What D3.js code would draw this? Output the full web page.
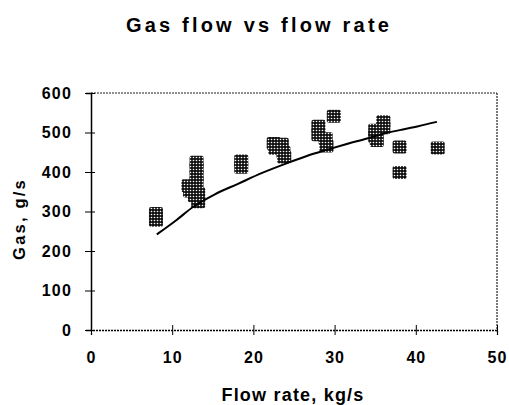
<!DOCTYPE html>
<html><head><meta charset="utf-8">
<script src="https://cdn.jsdelivr.net/npm/d3@7"></script>
<style>body{margin:0;background:#fff}svg{display:block}</style>
</head><body><svg id="c" width="509" height="405"></svg>
<script>
const title = "Gas flow vs flow rate";
const xLabel = "Flow rate, kg/s";
const yLabel = "Gas, g/s";
const xTicks = [0,10,20,30,40,50];
const yTicks = [0,100,200,300,400,500,600];
const flowRate = [8,8,12,12.2,12.8,13,13,13,13,13.2,13.2,18.5,18.5,22.5,22.7,23.5,23.7,23.8,28,28,28.9,29,29.9,35,35,35.2,36,36,38,38,42.7];
const gas =      [295,278,365,352,340,390,410,425,375,325,345,428,412,472,460,470,450,438,516,494,484,466,541,506,490,480,527,512,463,399,461];
const fitX = [8.1,10.5,12.6,15.2,18.1,21,24.1,26.5,29,31.5,34,36,38,40.3,42.6];
const fitY = [242,278,312,343,370,397,422,440,456,471,485,497,506,516,527];

const FONT = "Liberation Sans, Arial, sans-serif";
const svg = d3.select("#c");
const m = {l:91, r:497, t:93, b:330};
const x = d3.scaleLinear().domain([0,50]).range([m.l, m.r]);
const y = d3.scaleLinear().domain([0,600]).range([m.b, m.t]);

const defs = svg.append("defs");
const pat = defs.append("pattern").attr("id","dots").attr("patternUnits","userSpaceOnUse")
  .attr("width",3).attr("height",3);
pat.append("rect").attr("width",3).attr("height",3).attr("fill","#111");
pat.append("circle").attr("cx",1.5).attr("cy",1.5).attr("r",0.8).attr("fill","#fff");

svg.append("line").attr("x1",m.l).attr("x2",m.r).attr("y1",m.t).attr("y2",m.t)
  .attr("stroke","#222").attr("stroke-width",1.2).attr("stroke-dasharray","2,1");
svg.append("line").attr("x1",m.r).attr("x2",m.r).attr("y1",m.t).attr("y2",m.b)
  .attr("stroke","#222").attr("stroke-width",1.2).attr("stroke-dasharray","2,1");

const s = 14;
svg.append("g").selectAll("rect").data(flowRate).join("rect")
  .attr("x",(d)=>x(d)-s/2).attr("y",(d,i)=>y(gas[i])-6.5)
  .attr("width",s).attr("height",13).attr("rx",2)
  .attr("fill","url(#dots)");

svg.append("path").datum(fitX.map((d,i)=>[d,fitY[i]]))
  .attr("d", d3.line().x(d=>x(d[0])).y(d=>y(d[1])).curve(d3.curveMonotoneX))
  .attr("fill","none").attr("stroke","#000").attr("stroke-width",2);

const xAxis = svg.append("g").attr("transform",`translate(0,${m.b})`)
  .call(d3.axisBottom(x).tickValues(xTicks).tickSize(5).tickFormat(d3.format("d")));
xAxis.select(".domain").attr("stroke","#000").attr("stroke-width",1.3).attr("stroke-dasharray","2,1");
xAxis.selectAll(".tick line").attr("y1",-5).attr("y2",5).attr("stroke","#000");
xAxis.selectAll(".tick text").attr("y",22).attr("dy",0).attr("font-family",FONT)
  .attr("font-weight","bold").attr("font-size",16).attr("letter-spacing",1).attr("fill","#000");
xAxis.selectAll(".tick text").attr("dy","0.71em").attr("y",22);

const yAxis = svg.append("g").attr("transform",`translate(${m.l},0)`)
  .call(d3.axisLeft(y).tickValues(yTicks).tickSize(5));
yAxis.select(".domain").attr("stroke","#000").attr("stroke-width",1.5);
yAxis.selectAll(".tick line").attr("x1",-6).attr("x2",4).attr("stroke","#000");
yAxis.selectAll(".tick text").attr("x",-19).attr("font-family",FONT)
  .attr("font-weight","bold").attr("font-size",16).attr("letter-spacing",1.2).attr("fill","#000");

svg.append("text").attr("x",259).attr("y",32).attr("text-anchor","middle")
  .attr("font-family",FONT).attr("font-weight","bold")
  .attr("font-size",20).attr("letter-spacing",3.2).text(title);
svg.append("text").attr("x",293).attr("y",401).attr("text-anchor","middle")
  .attr("font-family",FONT).attr("font-weight","bold")
  .attr("font-size",18).attr("letter-spacing",1.2).text(xLabel);
svg.append("text").attr("transform","translate(25,219) rotate(-90)").attr("text-anchor","middle")
  .attr("font-family",FONT).attr("font-weight","bold")
  .attr("font-size",16.5).attr("letter-spacing",2.2).text(yLabel);
</script></body></html>
